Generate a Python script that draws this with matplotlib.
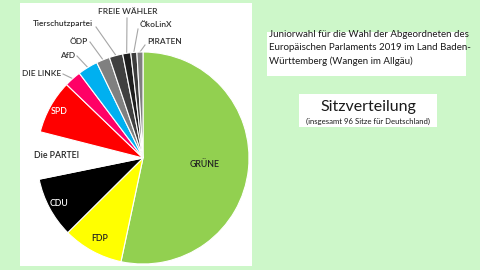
import numpy as np
import matplotlib
matplotlib.use("Agg")
import matplotlib.pyplot as plt
from matplotlib.patches import Rectangle

parties = ["GRÜNE", "FDP", "CDU", "Die PARTEI", "SPD", "DIE LINKE", "AfD",
           "ÖDP", "Tierschutzpartei", "FREIE WÄHLER", "ÖkoLinX", "PIRATEN"]
seats = [52, 9, 9, 7, 8, 2.5, 3, 2, 2, 1.2, 0.9, 0.9]
colors = ["#92d050", "#ffff00", "#000000", "#ffffff", "#ff0000", "#ff0066",
          "#00b0f0", "#808080", "#404040", "#1e1e1e", "#3c3c3c", "#7f7f7f"]

W, H = 480, 270
fig = plt.figure(figsize=(4.8, 2.7), dpi=100)
fig.patch.set_facecolor("#cdf7c9")
FONT = ["Lato", "DejaVu Sans"]

def fx(x):
    return x / W

def fy(y):
    return 1 - y / H

# white panel behind the pie
fig.patches.append(Rectangle((fx(20), fy(266)), 232 / W, 263 / H,
                             transform=fig.transFigure, facecolor="white",
                             edgecolor="none", zorder=-5))

cx, cy, r = 143, 158, 106
ax = fig.add_axes([fx(cx - r), fy(cy + r), 2 * r / W, 2 * r / H])
ax.set_zorder(2)
ax.set_facecolor("none")
wedges, _ = ax.pie(seats, colors=colors, startangle=90, counterclock=False,
                   wedgeprops=dict(edgecolor="white", linewidth=0.8))
ax.set_xlim(-1, 1)
ax.set_ylim(-1, 1)
ax.axis("off")

def mid(w):
    a = np.deg2rad((w.theta1 + w.theta2) / 2)
    return np.cos(a), np.sin(a)

# inside labels (radius factor, color)
inside = {"GRÜNE": (0.58, "#222222"), "FDP": (0.86, "#222222"),
          "CDU": (0.9, "white"), "Die PARTEI": (0.82, "#222222"),
          "SPD": (0.9, "white")}
for w, name in zip(wedges, parties):
    if name in inside:
        k, c = inside[name]
        mx, my = mid(w)
        ax.text(mx * k, my * k, name, ha="center", va="center", fontsize=6.3,
                color=c, family=FONT, fontweight="semibold")

# outside labels: text anchor in pixels, alignment, elbow point in pixels
outside = {
    "DIE LINKE": ((61, 74), "right", (63, 74)),
    "AfD": ((75, 56), "right", (77, 56)),
    "ÖDP": ((88, 42), "right", (90, 42)),
    "Tierschutzpartei": ((93, 24), "right", (96, 27)),
    "FREIE WÄHLER": ((128, 12), "center", (127, 18)),
    "ÖkoLinX": ((140, 25), "left", (138, 29)),
    "PIRATEN": ((147, 42), "left", (145, 45)),
}

def px2data(x, y):
    return (x - cx) / r, (cy - y) / r

for w, name in zip(wedges, parties):
    if name in outside:
        (tx, ty), ha, (ex, ey) = outside[name]
        mx, my = mid(w)
        ex_d, ey_d = px2data(ex, ey)
        ax.plot([ex_d, mx], [ey_d, my], color="#a6a6a6", lw=0.8,
                clip_on=False, zorder=0.5)
        tx_d, ty_d = px2data(tx, ty)
        ax.text(tx_d, ty_d, name, ha=ha, va="center", fontsize=6.0,
                color="#333333", family=FONT, fontweight="semibold",
                clip_on=False)

# right side text boxes
fig.patches.append(Rectangle((fx(267), fy(76)), 199 / W, 44 / H,
                             transform=fig.transFigure, facecolor="white",
                             edgecolor="none", zorder=-5))
fig.text(fx(269), fy(30), "Juniorwahl für die Wahl der Abgeordneten des\n"
         "Europäischen Parlaments 2019 im Land Baden-\n"
         "Württemberg (Wangen im Allgäu)", ha="left", va="top",
         fontsize=7.0, color="#1a1a1a", family=FONT, linespacing=1.55)

fig.patches.append(Rectangle((fx(299), fy(127)), 138 / W, 33 / H,
                             transform=fig.transFigure, facecolor="white",
                             edgecolor="none", zorder=-5))
fig.text(fx(368), fy(107), "Sitzverteilung", ha="center", va="center",
         fontsize=11.5, color="#1a1a1a", family=FONT)
fig.text(fx(368), fy(121), "(insgesamt 96 Sitze für Deutschland)", ha="center",
         va="center", fontsize=5.6, color="#1a1a1a", family=FONT)

fig.savefig("out.png", dpi=100, facecolor=fig.get_facecolor())
